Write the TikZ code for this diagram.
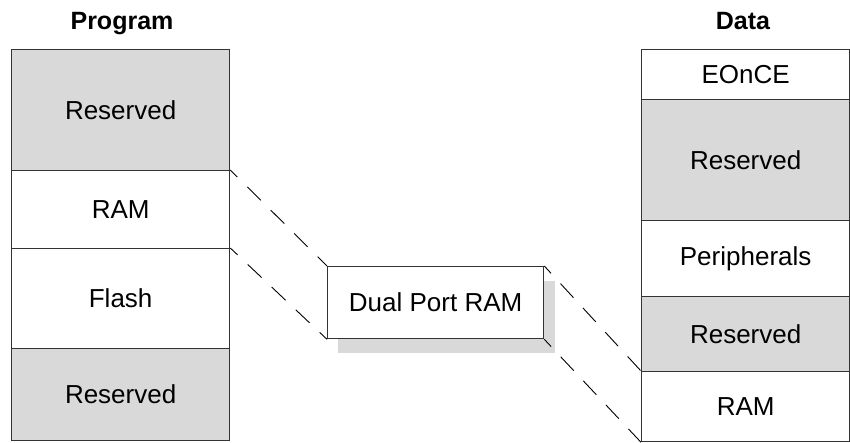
\documentclass[tikz,border=0pt]{standalone}
\usepackage{fontspec}
\setmainfont{Liberation Sans}
\begin{document}
\begin{tikzpicture}[x=1pt,y=-1pt,
  cell/.style={draw=black!80, line width=1.3pt, inner sep=0pt, anchor=north west,
    font=\fontsize{26}{30}\selectfont},
  res/.style={cell, fill=black!15},
  free/.style={cell, fill=white},
  title/.style={font=\fontsize{25}{30}\selectfont\bfseries, inner sep=0pt, anchor=base},
  link/.style={draw=black, line width=0.9pt, dash pattern=on 19pt off 14pt, dash phase=9pt}]
\useasboundingbox (0,0) rectangle (850,442);
% Program column
\node[title] (ptitle) at (122,29) {Program};
\node[res,  minimum width=218pt, minimum height=121pt] (p1) at (11,49) {Reserved};
\node[free, minimum width=218pt, minimum height=78pt]  (p2) at (11,170) {RAM};
\node[free, minimum width=218pt, minimum height=100pt] (p3) at (11,248) {Flash};
\node[res,  minimum width=218pt, minimum height=92pt]  (p4) at (11,348) {Reserved};
% Data column
\node[title] (dtitle) at (743,29) {Data};
\node[free, minimum width=208pt, minimum height=50pt]  (d1) at (641,49) {EOnCE};
\node[res,  minimum width=208pt, minimum height=121pt] (d2) at (641,99) {Reserved};
\node[free, minimum width=208pt, minimum height=76pt]  (d3) at (641,220) {Peripherals};
\node[res,  minimum width=208pt, minimum height=75pt]  (d4) at (641,296) {Reserved};
\node[free, minimum width=208pt, minimum height=70pt]  (d5) at (641,371) {RAM};
% Dual port RAM with shadow
\fill[black!15] (338,281) rectangle (555,353);
\node[free, minimum width=216pt, minimum height=72pt] (dpr) at (327,266) {Dual Port RAM};
% connectors
\draw[link] (p2.north east) -- (dpr.north west);
\draw[link] (p3.north east) -- (dpr.south west);
\draw[link] (dpr.north east) -- (d5.north west);
\draw[link] (dpr.south east) -- (d5.south west);
\end{tikzpicture}
\end{document}
